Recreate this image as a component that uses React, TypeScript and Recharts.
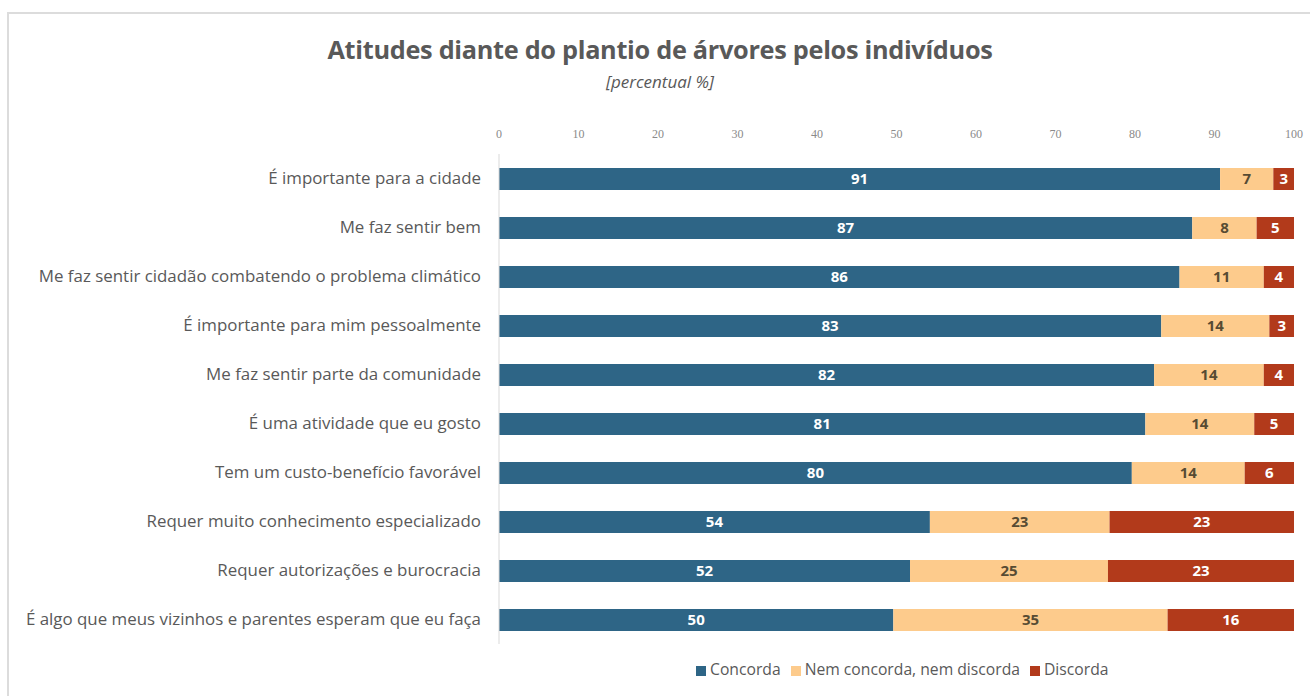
import React from 'react';
import { BarChart, Bar, XAxis, YAxis, Legend, LabelList } from 'recharts';

const categories = [
  'É importante para a cidade',
  'Me faz sentir bem',
  'Me faz sentir cidadão combatendo o problema climático',
  'É importante para mim pessoalmente',
  'Me faz sentir parte da comunidade',
  'É uma atividade que eu gosto ',
  'Tem um custo-benefício favorável',
  'Requer muito conhecimento especializado',
  'Requer autorizações e burocracia',
  'É algo que meus vizinhos e parentes esperam que eu faça',
];

const concorda = [90.7, 87.2, 85.6, 83.3, 82.4, 81.3, 79.6, 54.2, 51.7, 49.6];
const neutro = [6.7, 8.1, 10.6, 13.6, 13.8, 13.7, 14.2, 22.6, 24.9, 34.5];
const discorda = [2.6, 4.7, 3.8, 3.1, 3.8, 5.0, 6.2, 23.2, 23.4, 15.9];

const seriesNames = ['Concorda', 'Nem concorda, nem discorda', 'Discorda'];
const xTicks = [0, 10, 20, 30, 40, 50, 60, 70, 80, 90, 100];

const data = categories.map((name, i) => ({
  name,
  concorda: concorda[i],
  neutro: neutro[i],
  discorda: discorda[i],
}));

const BLUE = '#2e6586';
const BEIGE = '#fdcb8c';
const RED = '#b23a1b';
const TEXT = '#595959';
const FONT = '"Open Sans", Lato, sans-serif';

const fmt = (v: any) => Math.round(Number(v));

const App: React.FC = () => {
  return (
    <div
      style={{
        position: 'absolute',
        left: 0,
        top: 0,
        width: 1310,
        height: 696,
        overflow: 'hidden',
        background: '#fff',
        fontFamily: FONT,
      }}
    >
      <div
        style={{
          position: 'absolute',
          left: 7,
          top: 12,
          width: 1320,
          height: 720,
          borderTop: '2px solid #dcdcdc',
          borderLeft: '2px solid #dcdcdc',
        }}
      />
      <div
        style={{
          position: 'absolute',
          left: 0,
          width: 1320,
          top: 32,
          textAlign: 'center',
          fontSize: 25.3,
          fontWeight: 700,
          color: TEXT,
          letterSpacing: -0.3,
        }}
      >
        Atitudes diante do plantio de árvores pelos indivíduos
      </div>
      <div
        style={{
          position: 'absolute',
          left: 0,
          width: 1320,
          top: 70,
          textAlign: 'center',
          fontSize: 17,
          fontStyle: 'italic',
          color: TEXT,
        }}
      >
        [percentual %]
      </div>
      <div style={{ position: 'absolute', left: 0, top: 0 }}>
        <BarChart
          width={1310}
          height={696}
          data={data}
          layout="vertical"
          margin={{ top: 124, right: 16, bottom: 30, left: 9 }}
        >
          <XAxis
            type="number"
            orientation="top"
            domain={[0, 100]}
            ticks={xTicks}
            height={30}
            axisLine={false}
            tickLine={false}
            tickMargin={10}
            tick={{ fontSize: 12, fill: '#8a8a8a', fontFamily: '"Liberation Serif", serif' }}
          />
          <YAxis
            type="category"
            dataKey="name"
            width={490}
            axisLine={{ stroke: '#d9d9d9' }}
            tickLine={false}
            tickMargin={12}
            interval={0}
            tick={{ fontSize: 16.9, fill: TEXT, fontFamily: FONT }}
          />
          <Legend
            verticalAlign="bottom"
            iconType="square"
            iconSize={10}
            itemSorter={(item: any) => seriesNames.indexOf(item.value)}
            wrapperStyle={{ top: 658, left: 696, width: 'auto', fontSize: 15.7, fontFamily: FONT }}
            formatter={(value: string) => <span style={{ color: TEXT }}>{value}</span>}
          />
          <Bar dataKey="concorda" name={seriesNames[0]} stackId="a" fill={BLUE} barSize={22} isAnimationActive={false}>
            <LabelList dataKey="concorda" position="center" formatter={fmt} fill="#fff" fontWeight={700} fontSize={15} />
          </Bar>
          <Bar dataKey="neutro" name={seriesNames[1]} stackId="a" fill={BEIGE} barSize={22} isAnimationActive={false}>
            <LabelList dataKey="neutro" position="center" formatter={fmt} fill="#574b33" fontWeight={700} fontSize={15} />
          </Bar>
          <Bar dataKey="discorda" name={seriesNames[2]} stackId="a" fill={RED} barSize={22} isAnimationActive={false}>
            <LabelList dataKey="discorda" position="center" formatter={fmt} fill="#fff" fontWeight={700} fontSize={15} />
          </Bar>
        </BarChart>
      </div>
    </div>
  );
};

export default App;
